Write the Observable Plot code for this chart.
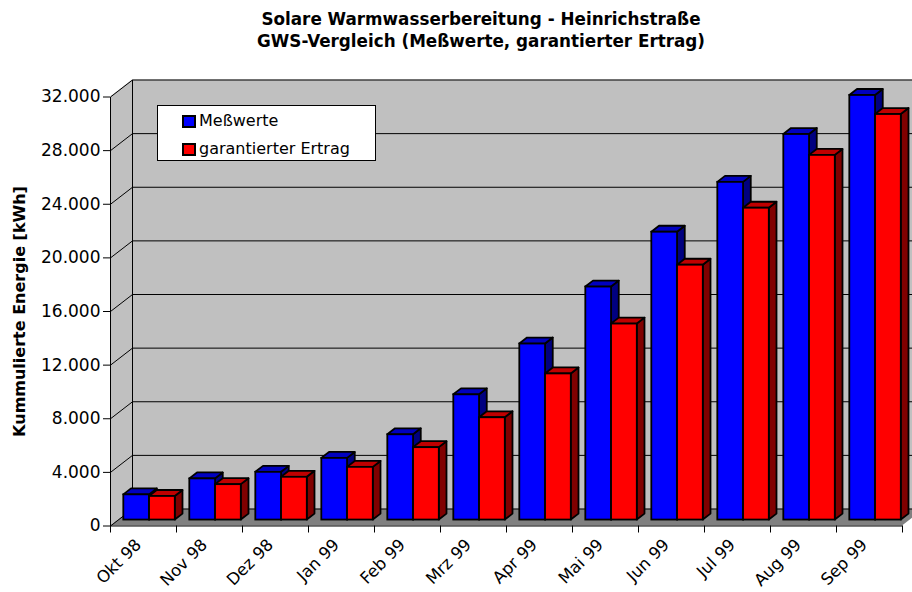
<!DOCTYPE html>
<html>
<head>
<meta charset="utf-8">
<script src="https://cdn.jsdelivr.net/npm/d3@7"></script>
<script src="https://cdn.jsdelivr.net/npm/@observablehq/plot@0.6"></script>
<style>
  html, body { margin: 0; padding: 0; background: #fff; overflow: hidden; }
  #wrap { position: relative; width: 912px; height: 592px; font-family: "DejaVu Sans", sans-serif; color: #000; }
  #wrap svg { position: absolute; left: 0; top: 0; }
  .title { position: absolute; left: 0; width: 962px; text-align: center; font-weight: bold; font-size: 16.8px; line-height: 22px; white-space: nowrap; }
  #legend { position: absolute; left: 157px; top: 105px; width: 217px; height: 54px; background: #fff; border: 1px solid #000; }
  .item { position: absolute; left: 24px; font-size: 16px; line-height: 20px; white-space: nowrap; }
  .sw { position: absolute; left: 0; top: 4px; width: 10px; height: 9px; border: 2px solid #000; }
  .item span.t { position: absolute; left: 17px; top: 0; }
</style>
</head>
<body>
<div id="wrap">
  <div class="title" style="top:8px">Solare Warmwasserbereitung - Heinrichstraße</div>
  <div class="title" style="top:30px">GWS-Vergleich (Meßwerte, garantierter Ertrag)</div>
</div>
<script>
// ---- data ----
const months = ["Okt 98", "Nov 98", "Dez 98", "Jan 99", "Feb 99", "Mrz 99", "Apr 99", "Mai 99", "Jun 99", "Jul 99", "Aug 99", "Sep 99"];
const messwerte = [1880, 3070, 3560, 4600, 6360, 9340, 13130, 17380, 21470, 25190, 28760, 31670];
const garantiert = [1760, 2640, 3190, 3930, 5400, 7630, 10900, 14620, 19010, 23260, 27200, 30250];
const seriesNames = ["Meßwerte", "garantierter Ertrag"];
const yTicks = [0, 4000, 8000, 12000, 16000, 20000, 24000, 28000, 32000];
const yMax = 32000;

// ---- styles / layout ----
const frontColors = ["#0000ff", "#ff0000"];
const topColors = ["#0000c0", "#c00000"];
const sideColors = ["#000080", "#800000"];
const W = 912, H = 592;
const mL = 110, mR = 10, mT = 96.5, mB = 66.5;
const pxPerX = (W - mL - mR) / months.length;     // pixels per category
const pxPerY = (H - mT - mB) / yMax;               // pixels per kWh
const depthPx = [22, 17];                          // 3D depth offset (px right, px up)
const DX = depthPx[0] / pxPerX;                    // depth in x units
const DY = depthPx[1] / pxPerY;                    // depth in y units
const barStart = 0.085, barW = 0.39, f0 = 0.35, f1 = 0.70;
const nCat = months.length;
const c = v => () => v;   // constant accessor

const bars = months.flatMap((m, i) => [0, 1].map(s => {
  const v = s === 0 ? messwerte[i] : garantiert[i];
  const xl = i + barStart + s * barW + f0 * DX;
  return {id: i * 2 + s, i, s, v, xl, xr: xl + barW, yb: f0 * DY, yt: v + f0 * DY};
}));
const dd = f1 - f0;
const fronts = s => bars.filter(b => b.s === s);
const tops = s => fronts(s).flatMap(b => [
  {id: b.id, y: b.v + f0 * DY, x1: b.xl, x2: b.xr},
  {id: b.id, y: b.v + f1 * DY, x1: b.xl + dd * DX, x2: b.xr + dd * DX}
]);
const sides = s => fronts(s).flatMap(b => [
  {id: b.id, x: b.xr, y1: f0 * DY, y2: b.v + f0 * DY},
  {id: b.id, x: b.xr + dd * DX, y1: f1 * DY, y2: b.v + f1 * DY}
]);

const deFmt = d => d3.format(",")(d).replace(/,/g, ".");

const barMarks = s => [
  Plot.areaY(sides(s), {x: "x", y1: "y1", y2: "y2", z: "id", fill: sideColors[s], stroke: "#000", strokeWidth: 1.8, strokeLinejoin: "round"}),
  Plot.areaX(tops(s), {y: "y", x1: "x1", x2: "x2", z: "id", fill: topColors[s], stroke: "#000", strokeWidth: 1.8, strokeLinejoin: "round"}),
  Plot.rect(fronts(s), {x1: "xl", x2: "xr", y1: "yb", y2: "yt", fill: frontColors[s], stroke: "#000", strokeWidth: 1.8})
];

const wallBack = [{x1: DX, x2: nCat + DX, y1: DY, y2: yMax + DY}];
const wallLeft = [{x: 0, y1: 0, y2: yMax}, {x: DX, y1: DY, y2: yMax + DY}];
const floor = [{y: 0, x1: 0, x2: nCat}, {y: DY, x1: DX, x2: nCat + DX}];
const backGrid = yTicks.map(t => ({y: t + DY, x1: DX, x2: nCat + DX}));
const sideGrid = yTicks.map(t => ({x1: 0, y1: t, x2: DX, y2: t + DY}));
const edges = [
  {x1: DX, y1: DY, x2: DX, y2: yMax + DY},   // back wall left edge
  {x1: 0, y1: 0, x2: 0, y2: yMax},           // front value axis
  {x1: 0, y1: 0, x2: nCat, y2: 0}            // front category axis
];

const chart = Plot.plot({
  width: W, height: H,
  marginLeft: mL, marginRight: mR, marginTop: mT, marginBottom: mB,
  style: {fontFamily: "DejaVu Sans, sans-serif", fontSize: "17px", background: "transparent", color: "#000"},
  x: {type: "linear", domain: [0, nCat], axis: null},
  y: {type: "linear", domain: [0, yMax], axis: null},
  marks: [
    Plot.rect(wallBack, {x1: "x1", x2: "x2", y1: "y1", y2: "y2", fill: "#c0c0c0"}),
    Plot.areaY(wallLeft, {x: "x", y1: "y1", y2: "y2", fill: "#c0c0c0"}),
    Plot.areaX(floor, {y: "y", x1: "x1", x2: "x2", fill: "#808080"}),
    Plot.link(backGrid, {x1: "x1", x2: "x2", y1: "y", y2: "y", stroke: "#000", strokeWidth: 1}),
    Plot.link(sideGrid, {x1: "x1", y1: "y1", x2: "x2", y2: "y2", stroke: "#000", strokeWidth: 1}),
    Plot.link(edges.slice(0, 1), {x1: "x1", y1: "y1", x2: "x2", y2: "y2", stroke: "#000", strokeWidth: 1}),
    ...barMarks(0),
    ...barMarks(1),
    Plot.link(edges.slice(1), {x1: "x1", y1: "y1", x2: "x2", y2: "y2", stroke: "#000", strokeWidth: 1}),
    Plot.axisY(yTicks, {anchor: "left", tickSize: 7, tickPadding: 3, tickFormat: deFmt, label: null, fontSize: 17}),
    Plot.axisX(d3.range(nCat + 1), {anchor: "bottom", tickSize: 7, tickFormat: () => "", label: null}),
    Plot.text(months, {x: (d, i) => i + 0.5, y: c(0), rotate: -45, textAnchor: "end", dx: -5, dy: 16, fontSize: 16.5}),
    Plot.text(["Kummulierte Energie [kWh]"], {frameAnchor: "left", textAnchor: "middle", rotate: -90, dx: -91, fontWeight: "bold", fontSize: 16})
  ]
});
const wrap = document.getElementById("wrap");
wrap.insertBefore(chart, wrap.firstChild);

// legend
const legend = document.createElement("div");
legend.id = "legend";
seriesNames.forEach((name, k) => {
  const it = document.createElement("div");
  it.className = "item";
  it.style.top = (k === 0 ? 5 : 33) + "px";
  const sw = document.createElement("div");
  sw.className = "sw";
  sw.style.background = frontColors[k];
  const t = document.createElement("span");
  t.className = "t";
  t.textContent = name;
  it.appendChild(sw);
  it.appendChild(t);
  legend.appendChild(it);
});
wrap.appendChild(legend);
</script>
</body>
</html>
